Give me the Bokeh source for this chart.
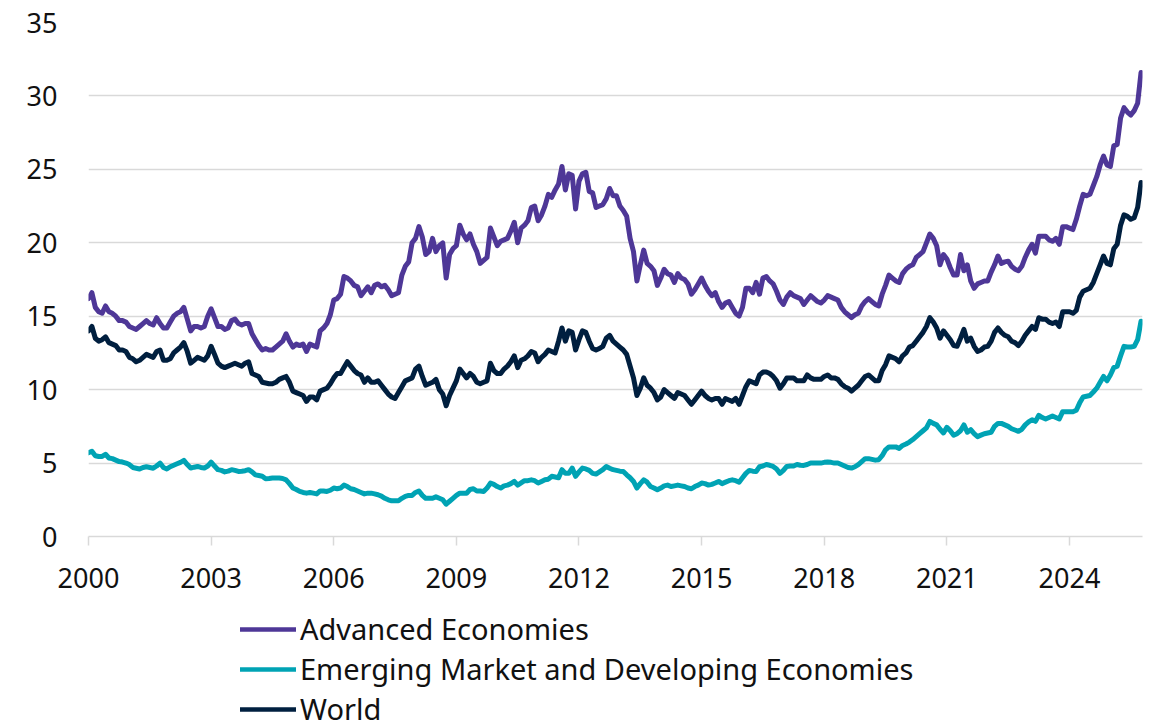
from bokeh.plotting import figure
from bokeh.layouts import column
from bokeh.models import Range1d, FixedTicker, Legend, LegendItem, ColumnDataSource
from bokeh.embed import file_html
from bokeh.resources import INLINE

start_year = 2000
tick_years = [2000, 2003, 2006, 2009, 2012, 2015, 2018, 2021, 2024]
y_ticks = [0, 5, 10, 15, 20, 25, 30, 35]

series_names = ["Advanced Economies", "Emerging Market and Developing Economies", "World"]

advanced = [
    16.2, 16.6, 15.6, 15.3, 15.2, 15.7, 15.3, 15.2, 15.0, 14.7, 14.7, 14.6,
    14.3, 14.2, 14.1, 14.3, 14.5, 14.7, 14.5, 14.4, 14.9, 14.5, 14.2, 14.2,
    14.6, 15.0, 15.2, 15.3, 15.6, 14.8, 14.0, 14.3, 14.3, 14.2, 14.3, 15.0,
    15.5, 14.9, 14.3, 14.3, 14.1, 14.2, 14.7, 14.8, 14.5, 14.4, 14.5, 14.5,
    13.8, 13.4, 13.0, 12.7, 12.8, 12.7, 12.7, 12.9, 13.1, 13.3, 13.8, 13.3,
    12.9, 13.1, 13.0, 13.1, 12.6, 13.1, 13.0, 12.9, 14.0, 14.2, 14.5, 15.1,
    16.1, 16.2, 16.5, 17.7, 17.6, 17.4, 17.1, 17.0, 16.4, 16.7, 17.0, 16.6,
    17.1, 17.2, 17.0, 17.1, 16.8, 16.4, 16.5, 16.6, 17.8, 18.4, 18.7, 20.0,
    20.3, 21.1, 20.4, 19.2, 19.4, 20.3, 19.4, 19.8, 20.0, 17.6, 19.2, 19.6,
    19.8, 21.2, 20.6, 20.2, 20.6, 19.9, 19.4, 18.6, 18.8, 19.0, 21.0, 20.4,
    19.8, 20.1, 20.2, 20.3, 20.8, 21.4, 20.0, 21.0, 21.2, 21.5, 22.4, 22.5,
    21.5, 21.9, 22.5, 23.3, 23.1, 23.6, 24.0, 25.2, 23.6, 24.7, 24.6, 22.3,
    24.2, 24.7, 24.8, 23.5, 23.4, 22.4, 22.5, 22.6, 23.0, 23.7, 23.2, 23.2,
    22.5, 22.2, 21.8, 20.3, 19.4, 17.4, 18.5, 19.5, 18.6, 18.4, 18.1, 17.1,
    17.6, 18.2, 17.9, 17.8, 17.3, 17.9, 17.6, 17.5, 17.2, 16.5, 16.8, 17.2,
    17.6, 17.1, 16.7, 16.4, 16.6, 16.0, 15.6, 15.9, 16.0, 15.6, 15.2, 15.0,
    15.6, 16.9, 16.9, 16.6, 17.3, 16.5, 17.6, 17.7, 17.4, 17.2, 16.7, 16.1,
    15.8, 16.3, 16.6, 16.4, 16.3, 16.2, 15.8, 16.1, 16.4, 16.2, 16.0, 15.9,
    16.1, 16.4, 16.3, 16.2, 16.1, 15.6, 15.3, 15.1, 14.9, 15.1, 15.2, 15.7,
    16.0, 16.2, 16.0, 15.8, 15.7, 16.5, 17.1, 17.8, 17.6, 17.4, 17.3, 17.9,
    18.2, 18.4, 18.5, 19.0, 19.2, 19.4, 20.0, 20.6, 20.3, 19.8, 18.5, 19.2,
    18.9, 18.3, 17.8, 17.8, 19.2, 18.1, 18.5, 17.4, 16.9, 17.2, 17.3, 17.4,
    17.4, 18.0, 18.5, 19.1, 18.6, 18.7, 18.75, 18.4, 18.2, 18.1, 18.4, 19.0,
    19.5, 19.9, 19.3, 20.45, 20.45, 20.45, 20.2, 20.1, 20.3, 19.9, 21.1, 21.1,
    21.0, 20.9, 21.6, 22.5, 23.3, 23.2, 23.3, 23.9, 24.5, 25.3, 25.9, 25.3,
    25.2, 26.6, 26.7, 28.5, 29.2, 28.9, 28.7, 29.0, 29.5, 31.6,
]

emerging = [
    5.7, 5.8, 5.5, 5.45, 5.45, 5.6, 5.35, 5.3, 5.2, 5.1, 5.07, 5.0,
    4.9, 4.7, 4.65, 4.6, 4.7, 4.75, 4.7, 4.65, 4.8, 5.0, 4.7, 4.6,
    4.75, 4.85, 4.95, 5.05, 5.18, 4.9, 4.66, 4.72, 4.77, 4.7, 4.66, 4.8,
    5.07, 4.8, 4.55, 4.5, 4.4, 4.45, 4.55, 4.5, 4.43, 4.45, 4.48, 4.55,
    4.4, 4.2, 4.15, 4.1, 3.93, 3.95, 3.98, 3.98, 3.98, 3.95, 3.86, 3.6,
    3.3, 3.2, 3.07, 3.0, 2.95, 3.0, 2.95, 2.9, 3.1, 3.1, 3.07, 3.15,
    3.3, 3.25, 3.3, 3.5, 3.4, 3.25, 3.2, 3.1, 3.0, 2.9, 2.95, 2.95,
    2.9, 2.84, 2.75, 2.6, 2.5, 2.43, 2.43, 2.43, 2.6, 2.73, 2.8, 2.8,
    3.0, 3.1, 2.8, 2.6, 2.6, 2.6, 2.7, 2.6, 2.5, 2.2, 2.4, 2.6,
    2.8, 2.95, 2.95, 2.95, 3.2, 3.25, 3.1, 3.1, 3.07, 3.3, 3.64, 3.55,
    3.4, 3.3, 3.45, 3.5, 3.6, 3.75, 3.5, 3.65, 3.8, 3.8, 3.86, 3.8,
    3.64, 3.75, 3.86, 3.9, 4.1, 4.05, 4.0, 4.55, 4.3, 4.3, 4.66, 4.1,
    4.4, 4.66, 4.6, 4.5, 4.3, 4.25, 4.4, 4.55, 4.77, 4.65, 4.55, 4.5,
    4.45, 4.43, 4.2, 4.0, 3.75, 3.3, 3.6, 3.86, 3.7, 3.4, 3.3, 3.18,
    3.3, 3.45, 3.5, 3.4, 3.45, 3.5, 3.45, 3.4, 3.3, 3.25, 3.4, 3.5,
    3.64, 3.6, 3.5, 3.55, 3.64, 3.75, 3.6, 3.7, 3.8, 3.86, 3.8, 3.7,
    4.0, 4.3, 4.5, 4.45, 4.43, 4.75, 4.8, 4.9, 4.85, 4.77, 4.6, 4.3,
    4.5, 4.77, 4.8, 4.8, 4.9, 4.85, 4.84, 4.9, 5.0, 5.0, 5.0, 5.0,
    5.05, 5.07, 5.05, 5.0, 5.0, 4.9, 4.8, 4.7, 4.66, 4.75, 4.9, 5.1,
    5.3, 5.3, 5.25, 5.2, 5.23, 5.5, 5.9, 6.1, 6.1, 6.1, 6.0, 6.2,
    6.3, 6.43, 6.6, 6.8, 7.0, 7.2, 7.4, 7.84, 7.7, 7.6, 7.3, 7.05,
    7.43, 7.2, 6.9, 7.0, 7.2, 7.6, 7.1, 7.27, 7.0, 6.8, 6.9, 7.0,
    7.05, 7.1, 7.5, 7.7, 7.7, 7.6, 7.5, 7.34, 7.25, 7.16, 7.3, 7.6,
    7.8, 7.95, 7.84, 8.25, 8.1, 8.0, 8.1, 8.2, 8.1, 8.0, 8.5, 8.5,
    8.5, 8.5, 8.6, 9.1, 9.5, 9.55, 9.6, 9.84, 10.1, 10.5, 10.9, 10.6,
    11.0, 11.5, 11.6, 12.3, 12.95, 12.9, 12.9, 12.95, 13.4, 14.66,
]

world = [
    14.0, 14.3, 13.5, 13.3, 13.4, 13.6, 13.2, 13.1, 13.0, 12.7, 12.7, 12.6,
    12.2, 12.1, 11.9, 12.0, 12.2, 12.4, 12.3, 12.2, 12.6, 12.7, 12.0, 12.0,
    12.1, 12.5, 12.7, 12.9, 13.2, 12.6, 11.8, 12.0, 12.2, 12.1, 12.0, 12.3,
    12.95, 12.4, 11.8, 11.6, 11.5, 11.6, 11.7, 11.8, 11.7, 11.6, 11.8, 11.9,
    11.1, 11.0, 10.9, 10.5, 10.45, 10.4, 10.4, 10.5, 10.7, 10.8, 10.9, 10.5,
    9.9, 9.8, 9.7, 9.6, 9.2, 9.5, 9.5, 9.3, 9.9, 10.0, 10.1, 10.4,
    10.8, 11.1, 11.1, 11.5, 11.9, 11.6, 11.3, 11.1, 11.0, 10.5, 10.8, 10.5,
    10.5, 10.6, 10.3, 10.0, 9.7, 9.5, 9.4, 9.8, 10.2, 10.6, 10.7, 10.8,
    11.4, 11.6, 10.9, 10.3, 10.4, 10.5, 10.7, 10.0, 9.7, 8.9, 9.6, 10.1,
    10.6, 11.4, 11.1, 10.8, 11.1, 10.9, 10.5, 10.4, 10.5, 10.6, 11.8, 11.3,
    11.1, 11.1, 11.4, 11.6, 11.9, 12.3, 11.5, 12.0, 12.1, 12.3, 12.6, 12.5,
    11.9, 12.2, 12.4, 12.7, 12.6, 12.5, 13.3, 14.2, 13.3, 14.0, 13.9, 12.7,
    13.4, 14.0, 13.9, 13.3, 12.8, 12.7, 12.8, 12.95, 13.5, 13.7, 13.3, 13.1,
    12.9, 12.7, 12.4, 11.6, 10.8, 9.6, 10.1, 10.8, 10.3, 10.1, 9.8, 9.3,
    9.5, 10.0, 9.8, 9.6, 9.4, 9.8, 9.7, 9.6, 9.3, 9.0, 9.3, 9.6,
    9.9, 9.6, 9.4, 9.3, 9.4, 9.4, 9.0, 9.4, 9.3, 9.2, 9.4, 9.0,
    9.6, 10.2, 10.6, 10.5, 10.4, 11.0, 11.2, 11.2, 11.1, 10.9, 10.6, 10.1,
    10.4, 10.8, 10.8, 10.8, 10.6, 10.6, 10.6, 11.0, 10.8, 10.7, 10.7, 10.7,
    10.9, 11.0, 10.8, 10.8, 10.7, 10.4, 10.2, 10.1, 9.9, 10.1, 10.3, 10.6,
    10.9, 11.0, 10.8, 10.6, 10.6, 11.3, 11.7, 12.3, 12.2, 12.1, 11.9, 12.3,
    12.5, 12.9, 13.0, 13.3, 13.6, 13.9, 14.3, 14.9, 14.6, 14.2, 13.5, 14.0,
    13.7, 13.4, 13.0, 12.95, 13.5, 14.1, 13.3, 13.5, 12.95, 12.6, 12.7, 12.9,
    12.95, 13.3, 13.9, 14.2, 13.9, 13.7, 13.6, 13.3, 13.2, 13.0, 13.3, 13.7,
    14.0, 14.3, 14.1, 14.9, 14.8, 14.8, 14.6, 14.5, 14.6, 14.3, 15.3, 15.3,
    15.3, 15.2, 15.4, 16.3, 16.7, 16.8, 16.9, 17.3, 17.9, 18.5, 19.1, 18.6,
    18.5, 19.6, 19.9, 21.2, 21.9, 21.8, 21.6, 21.7, 22.4, 24.1,
]

colors = ["#4e3797", "#00a3b4", "#001f3f"]
FONT = "Noto Sans"
TEXT_COLOR = "#111111"
GRID_COLOR = "#d9d9d9"

dates = [start_year + i / 12.0 for i in range(len(advanced))]
source = ColumnDataSource(data=dict(date=dates, advanced=advanced,
                                    emerging=emerging, world=world))
columns = ["advanced", "emerging", "world"]

# ---- main chart ----
p = figure(width=1154, height=606, output_backend="svg", toolbar_location=None,
           x_range=Range1d(2000, 2025.786), y_range=Range1d(0, 35),
           min_border_left=88, min_border_right=12, min_border_top=22,
           min_border_bottom=70)
p.outline_line_color = None
p.background_fill_color = "white"
p.border_fill_color = "white"

for col, c in zip(columns, colors):
    p.line("date", col, source=source, line_color=c, line_width=5,
           line_join="round", line_cap="round")

p.xgrid.grid_line_color = None
p.ygrid.grid_line_color = GRID_COLOR
p.ygrid.grid_line_width = 1.5
p.ygrid.ticker = FixedTicker(ticks=y_ticks)

p.xaxis.ticker = FixedTicker(ticks=tick_years)
p.xaxis.axis_line_color = GRID_COLOR
p.xaxis.axis_line_width = 1.5
p.xaxis.major_tick_line_color = GRID_COLOR
p.xaxis.major_tick_line_width = 1.5
p.xaxis.major_tick_out = 9
p.xaxis.major_tick_in = 0
p.xaxis.minor_tick_line_color = None
p.xaxis.major_label_standoff = 22
p.xaxis.major_label_text_font = FONT
p.xaxis.major_label_text_font_size = "27px"
p.xaxis.major_label_text_color = TEXT_COLOR

p.yaxis.ticker = FixedTicker(ticks=y_ticks)
p.yaxis.axis_line_color = None
p.yaxis.major_tick_line_color = None
p.yaxis.minor_tick_line_color = None
p.yaxis.major_tick_out = 0
p.yaxis.major_tick_in = 0
p.yaxis.major_label_standoff = 31
p.yaxis.major_label_text_font = FONT
p.yaxis.major_label_text_font_size = "27px"
p.yaxis.major_label_text_color = TEXT_COLOR

# ---- legend strip below the chart (its frame is aligned with the chart's) ----
lg = figure(width=1154, height=114, output_backend="svg", toolbar_location=None,
            x_axis_type=None, y_axis_type=None,
            x_range=Range1d(0, 1), y_range=Range1d(0, 1),
            min_border_left=0, min_border_right=0, min_border_top=0,
            min_border_bottom=0)
lg.outline_line_color = None
lg.xgrid.grid_line_color = None
lg.ygrid.grid_line_color = None
lg.border_fill_color = "white"
lg.background_fill_color = "white"

# key renderers share the chart's data; it lies outside this strip's ranges,
# so only their legend swatches are seen
key_renderers = []
for col, c in zip(columns, colors):
    r = lg.line("date", col, source=source, line_color=c, line_width=4.5,
                line_cap="round")
    key_renderers.append(r)

legend = Legend(items=[LegendItem(label=n, renderers=[r])
                       for n, r in zip(series_names, key_renderers)])
legend.location = (152, -8)
legend.padding = 0
legend.margin = 0
legend.spacing = 1
legend.glyph_width = 56
legend.glyph_height = 20
legend.label_height = 20
legend.label_standoff = 4
legend.border_line_color = None
legend.background_fill_alpha = 0
legend.label_text_font = FONT
legend.label_text_font_size = "29px"
legend.label_text_color = TEXT_COLOR
lg.add_layout(legend)

layout = column(p, lg, spacing=0)
open("out.html", "w").write(file_html(layout, INLINE))
